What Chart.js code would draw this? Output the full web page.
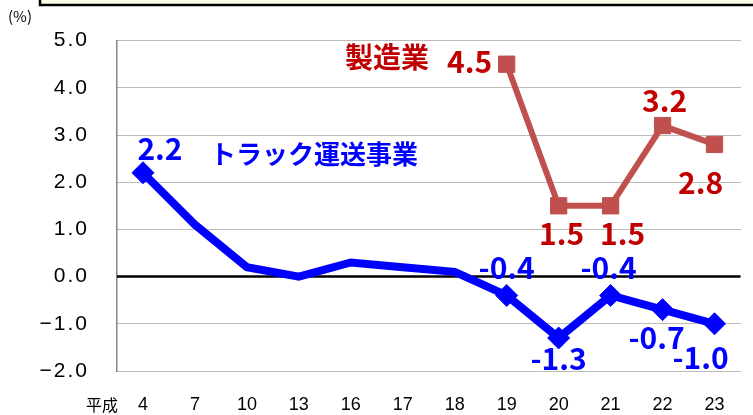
<!DOCTYPE html>
<html><head><meta charset="utf-8">
<script src="https://cdn.jsdelivr.net/npm/chart.js@4"></script>
<style>html,body{margin:0;padding:0;background:#fff;overflow:hidden}canvas{display:block}</style>
</head><body>
<canvas id="c" width="753" height="415" style="width:753px;height:415px"></canvas>
<script>
// ---- data ----
const categories = ['4','7','10','13','16','17','18','19','20','21','22','23'];
const truckValues = [2.2, 1.1, 0.2, 0.0, 0.3, 0.2, 0.1, -0.4, -1.3, -0.4, -0.7, -1.0];
const mfgValues = [null, null, null, null, null, null, null, 4.5, 1.5, 1.5, 3.2, 2.8];
const truckName = 'トラック運送事業';
const mfgName = '製造業';
const yMin = -2, yMax = 5, yStep = 1;
const unitLabel = '(%)';
const eraLabel = '平成';

// ---- label placement (pixel offsets from each point) ----
const truckLabelOffsets = {0:[17,-24],7:[0,-28],8:[0,21],9:[-2,-28],10:[-6,28],11:[-14,34]};
const mfgLabelOffsets = {7:[-37,-3],8:[3,28],9:[12,28],10:[2,-25],11:[-14,38]};

const BLUE = '#0000FF', RED_LINE = '#C0504D', RED_TEXT = '#C00000';
const labelFont = 'bold 30px "Noto Sans CJK JP"';

const decoPlugin = {
  id: 'deco',
  beforeDraw(chart) {
    const ctx = chart.ctx;
    ctx.save();
    // cut-off banner box at the top
    ctx.fillStyle = '#FFFFE8';
    ctx.fillRect(40, -10, 760, 15);
    ctx.strokeStyle = '#000';
    ctx.lineWidth = 2.5;
    ctx.strokeRect(40, -10, 760, 15);
    // unit & era labels
    ctx.fillStyle = '#000';
    ctx.font = '15px "Noto Sans CJK JP"';
    ctx.textAlign = 'center';
    ctx.textBaseline = 'middle';
    ctx.fillText(unitLabel, 20, 16);
    ctx.font = '16px "Noto Sans CJK JP"';
    ctx.fillText(eraLabel, 102, 405);
    ctx.restore();
    ctx.letterSpacing = '2px';
  },
  beforeDatasetsDraw(chart) {
    const ctx = chart.ctx;
    ctx.letterSpacing = '0px';
    const y = chart.scales.y.getPixelForValue(0);
    const a = chart.chartArea;
    ctx.save();
    ctx.strokeStyle = '#000';
    ctx.lineWidth = 2.5;
    ctx.beginPath();
    ctx.moveTo(a.left, y);
    ctx.lineTo(a.right, y);
    ctx.stroke();
    ctx.restore();
  },
  afterDatasetsDraw(chart) {
    const ctx = chart.ctx;
    ctx.save();
    ctx.textAlign = 'center';
    ctx.textBaseline = 'middle';
    // series names
    ctx.font = 'bold 26px "Noto Sans CJK JP"';
    ctx.fillStyle = BLUE;
    ctx.fillText(truckName, 314, 154);
    ctx.font = 'bold 28px "Noto Sans CJK JP"';
    ctx.fillStyle = RED_TEXT;
    ctx.fillText(mfgName, 387, 57);
    // value labels
    ctx.font = labelFont;
    const draw = (dsIndex, values, offsets, color) => {
      const meta = chart.getDatasetMeta(dsIndex);
      ctx.fillStyle = color;
      Object.keys(offsets).forEach(k => {
        const i = +k;
        const pt = meta.data[i];
        if (!pt || values[i] == null) return;
        const [dx, dy] = offsets[k];
        ctx.fillText(values[i].toFixed(1), pt.x + dx, pt.y + dy);
      });
    };
    draw(0, truckValues, truckLabelOffsets, BLUE);
    draw(1, mfgValues, mfgLabelOffsets, RED_TEXT);
    ctx.restore();
  }
};

new Chart(document.getElementById('c'), {
  type: 'line',
  data: {
    labels: categories,
    datasets: [
      {
        label: truckName,
        data: truckValues,
        borderColor: BLUE,
        backgroundColor: BLUE,
        borderWidth: 8,
        pointStyle: 'rectRot',
        pointRadius: [11,0,0,0,0,0,0,11,11,11,11,11],
        pointBorderWidth: 1,
        pointBorderColor: BLUE,
        pointBackgroundColor: BLUE,
        tension: 0,
        order: 1
      },
      {
        label: mfgName,
        data: mfgValues,
        borderColor: RED_LINE,
        backgroundColor: RED_LINE,
        borderWidth: 6,
        pointStyle: 'rect',
        pointRadius: 11.5,
        pointBorderWidth: 1,
        pointBorderColor: RED_LINE,
        pointBackgroundColor: RED_LINE,
        spanGaps: false,
        tension: 0,
        order: 2
      }
    ]
  },
  options: {
    responsive: false,
    animation: false,
    devicePixelRatio: 1,
    layout: { padding: { top: 39, right: 5, left: 0, bottom: 0 } },
    plugins: { legend: { display: false }, tooltip: { enabled: false } },
    scales: {
      x: {
        offset: true,
        grid: { display: false, drawTicks: false },
        border: { display: false },
        ticks: {
          z: 1,
          padding: 23,
          color: '#000',
          font: { family: '"Liberation Sans", Arial', size: 18 },
          maxRotation: 0,
          autoSkip: false
        },
        afterFit(s) { s.height = 44; }
      },
      y: {
        min: yMin,
        max: yMax,
        grid: { color: '#777', lineWidth: 1, drawTicks: false },
        border: { display: true, color: '#888', width: 1.5, dash: [1, 1] },
        ticks: {
          stepSize: yStep,
          padding: 28,
          color: '#000',
          font: { family: '"Liberation Sans", Arial', size: 21 },
          callback: v => v.toFixed(1).replace('-', '\u2212')
        },
        afterFit(s) { s.width = 117; }
      }
    }
  },
  plugins: [decoPlugin]
});
</script>
</body></html>
